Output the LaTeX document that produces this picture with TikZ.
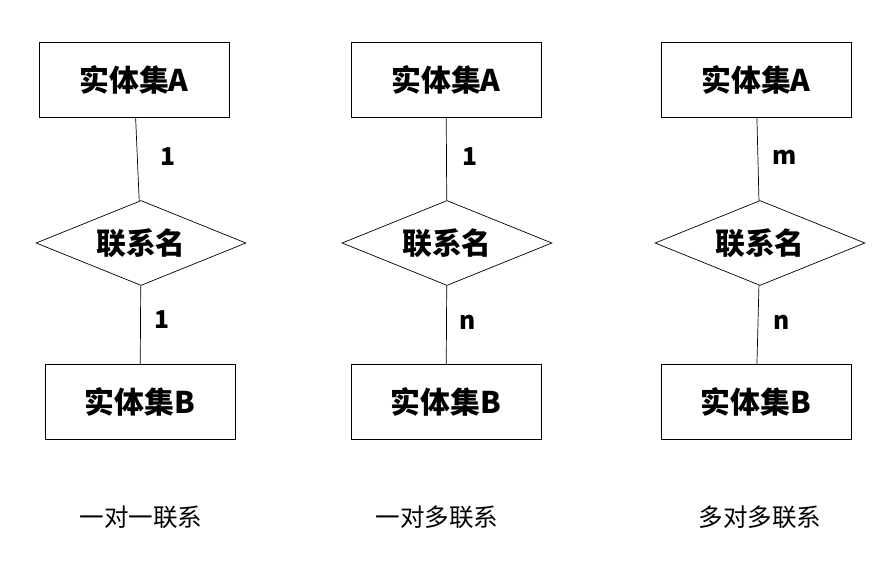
\documentclass[tikz,border=0pt]{standalone}
\usepackage{fontspec}
\newfontfamily\cjk{Noto Sans CJK SC}
\usetikzlibrary{shapes.geometric}
\tikzset{
  entitybox/.style={draw, minimum width=3.8cm, minimum height=1.5cm, font=\cjk\bfseries\fontsize{17}{20}\selectfont},
  relation/.style={draw, diamond, aspect=2.45, minimum width=4.2cm, minimum height=1.7cm, inner sep=0pt, font=\cjk\bfseries\fontsize{17}{20}\selectfont},
  card/.style={font=\cjk\bfseries\fontsize{14}{16}\selectfont},
  caption/.style={font=\cjk\fontsize{14}{16}\selectfont}
}
\begin{document}
\begin{tikzpicture}[x=0.02cm, y=-0.02cm]
\useasboundingbox[fill=white] (0,0) rectangle (889,568);
% one to one
\node[entitybox] (A 1) at (134,80) {实体集A};
\node[relation] (R 1) at (141,243) {联系名};
\node[entitybox] (B 1) at (140,402) {实体集B};
\draw (A 1) -- (R 1);
\draw (R 1) -- (B 1);
\node[card] (c A 1) at (168,157) {1};
\node[card] (c B 1) at (162,320) {1};
\node[caption] (cap 1) at (141,517) {一对一联系};
% one to many
\node[entitybox] (A 2) at (446,80) {实体集A};
\node[relation] (R 2) at (447,243) {联系名};
\node[entitybox] (B 2) at (446,402) {实体集B};
\draw (A 2) -- (R 2);
\draw (R 2) -- (B 2);
\node[card] (c A 2) at (470,157) {1};
\node[card] (c B 2) at (468,322) {n};
\node[caption] (cap 2) at (437,517) {一对多联系};
% many to many
\node[entitybox] (A 3) at (756,80) {实体集A};
\node[relation] (R 3) at (760,243) {联系名};
\node[entitybox] (B 3) at (756,402) {实体集B};
\draw (A 3) -- (R 3);
\draw (R 3) -- (B 3);
\node[card] (c A 3) at (785,157) {m};
\node[card] (c B 3) at (782,322) {n};
\node[caption] (cap 3) at (760,517) {多对多联系};
\end{tikzpicture}
\end{document}
